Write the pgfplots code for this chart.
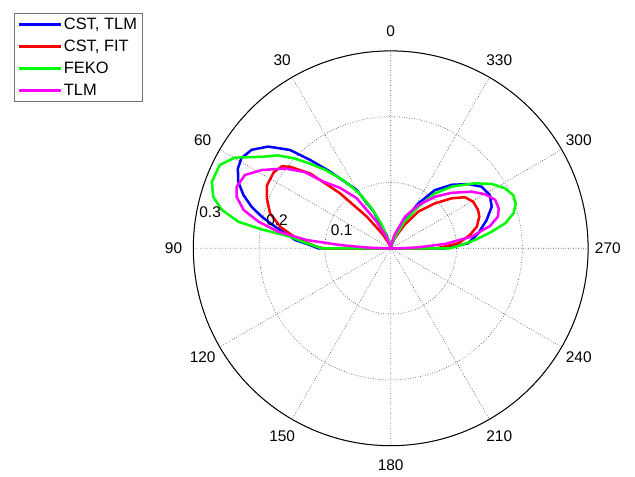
\documentclass[border=0pt]{standalone}
\usepackage{pgfplots}
\pgfplotsset{compat=1.18}
\usepgfplotslibrary{polar}
\usepackage{pgfplotstable}
\usepackage{fontspec}
\setmainfont{Liberation Sans}
\definecolor{cblue}{RGB}{0,0,255}
\definecolor{cred}{RGB}{255,0,0}
\definecolor{cgreen}{RGB}{0,255,0}
\definecolor{cmag}{RGB}{255,0,255}

% angle (deg, counterclockwise from top)  radius
\pgfplotstableread{
t r
0 0
10 0.005
17 0.021
25 0.062
30.3 0.103
38.4 0.149
42.4 0.182
45.7 0.214
50.3 0.242
54.7 0.259
58.9 0.265
62.4 0.262
66.4 0.253
70.1 0.238
73.3 0.221
76.2 0.202
79.4 0.179
82.6 0.157
85 0.146
87.7 0.123
90 0.110
91 0
269 0
270 0.082
273.7 0.118
279.7 0.135
286.4 0.152
292.4 0.166
298.2 0.171
304.1 0.167
309.6 0.153
316.1 0.134
322.8 0.111
328.4 0.080
333.2 0.048
339.6 0.019
350 0.004
360 0
}\cstTLM

\pgfplotstableread{
t r
0 0
15 0.003
22 0.008
30 0.025
37 0.060
42.7 0.114
47.1 0.167
51 0.197
53 0.207
57 0.212
63 0.211
68 0.203
73.8 0.191
79 0.171
82.3 0.152
84.8 0.138
88.8 0.112
90 0.102
91 0
269 0
270 0.070
274.2 0.103
279.5 0.122
284.1 0.135
289.7 0.143
293.6 0.145
299.4 0.144
304.5 0.137
309.3 0.120
315.4 0.096
323 0.070
330 0.040
340 0.015
350 0.004
360 0
}\cstFIT

\pgfplotstableread{
t r
0 0
12 0.008
21 0.040
25.5 0.068
30 0.098
35 0.127
40 0.156
44 0.180
47 0.200
50.5 0.222
54.6 0.240
59.8 0.274
64 0.289
69.6 0.290
73.8 0.281
77.2 0.263
80.1 0.235
81.6 0.200
83.4 0.154
86.6 0.128
90 0.105
91 0
269 0
270 0.090
272 0.103
275.6 0.129
279.4 0.156
282.3 0.178
285.9 0.194
289.7 0.202
293.5 0.203
297.7 0.196
302.5 0.182
307.6 0.162
315.3 0.132
321.1 0.107
326.4 0.076
333 0.045
340 0.018
350 0.004
360 0
}\feko

\pgfplotstableread{
t r
0 0
15 0.005
22 0.020
27.8 0.046
34.2 0.092
40 0.120
45.3 0.144
48.5 0.175
52.9 0.201
58.7 0.229
63.3 0.248
68.2 0.252
71.5 0.247
75.4 0.231
78.6 0.205
81.6 0.173
84.4 0.128
86.3 0.077
88 0.040
90 0.010
91 0
269 0
270 0.015
272 0.042
274.6 0.083
278.2 0.124
282.7 0.155
286.5 0.170
290.3 0.175
294.9 0.175
299.9 0.165
305 0.150
312.4 0.125
319.4 0.103
327.4 0.078
335.6 0.053
345 0.020
355 0.004
360 0
}\tlm

\begin{document}
\begin{tikzpicture}[x=1bp,y=1bp]
\useasboundingbox (0,0) rectangle (635,477);
\begin{polaraxis}[
  at={(390.7bp,228.7bp)}, anchor=origin,
  scale only axis, width=394.8bp, height=394.8bp,
  xmin=0, xmax=360, ymin=0, ymax=0.3,
  xtick={0,30,...,330}, ytick={0.1,0.2,0.3},
  xticklabel={\relax}, yticklabel={\relax},
  grid=major,
  major grid style={black!70, line width=0.6bp, dash pattern=on 0.7bp off 1.8bp},
  major tick length=0pt,
  axis line style={black, line width=1bp},
  y axis line style={draw=none},
  clip=false,
  legend style={at={(-0.454,1.096)}, anchor=north west, draw=black!55, line width=0.7bp,
    font=\fontsize{16.5}{19}\selectfont, inner xsep=3bp, inner ysep=2.5bp,
    row sep=5.2bp, cells={anchor=west}, fill=white},
  legend image code/.code={\draw[#1] (0bp,0bp) -- (42bp,0bp);},
  every axis plot/.append style={line width=2.5bp, line join=round},
]
\addplot[cblue, no marks] table[x expr=\thisrow{t}+90, y=r] {\cstTLM};
\addlegendentry{CST, TLM\hspace{19bp}}
\addplot[cred, no marks] table[x expr=\thisrow{t}+90, y=r] {\cstFIT};
\addlegendentry{CST, FIT}
\addplot[cgreen, no marks] table[x expr=\thisrow{t}+90, y=r] {\feko};
\addlegendentry{FEKO}
\addplot[cmag, no marks] table[x expr=\thisrow{t}+90, y=r] {\tlm};
\addlegendentry{TLM}

\begin{scope}[every node/.style={font=\fontsize{15.5}{18}\selectfont, inner sep=0pt}]
\node at (axis cs:90,0.33) {0};
\node at (axis cs:120,0.33) {30};
\node at (axis cs:150,0.33) {60};
\node at (axis cs:180,0.33) {90};
\node at (axis cs:210,0.33) {120};
\node at (axis cs:240,0.33) {150};
\node at (axis cs:270,0.33) {180};
\node at (axis cs:300,0.33) {210};
\node at (axis cs:330,0.33) {240};
\node at (axis cs:0,0.33) {270};
\node at (axis cs:30,0.33) {300};
\node at (axis cs:60,0.33) {330};
\node at (axis cs:159.5,0.0795) {0.1};
\node at (axis cs:166,0.178) {0.2};
\node at (axis cs:168.6,0.280) {0.3};
\end{scope}
\end{polaraxis}
\end{tikzpicture}
\end{document}
